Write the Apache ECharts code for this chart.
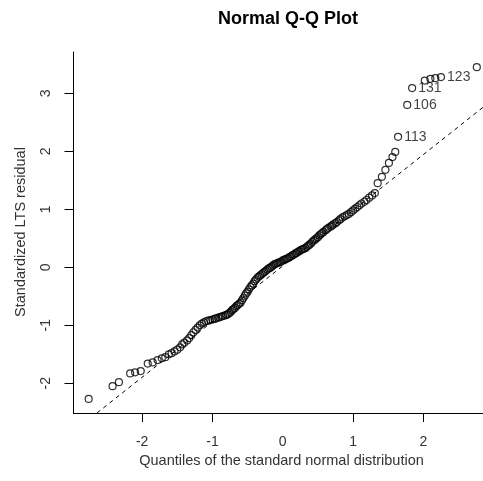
<!DOCTYPE html>
<html>
<head>
<meta charset="utf-8">
<script src="https://cdn.jsdelivr.net/npm/echarts@6/dist/echarts.min.js"></script>
<style>
html,body{margin:0;padding:0;background:#fff;}
#chart{width:483px;height:481px;}
</style>
</head>
<body>
<div id="chart"></div>
<script>
// Theoretical quantiles (x) and sorted standardized LTS residuals (y)
const xq = [
-2.76,-2.42,-2.33,-2.17,-2.10,-2.02,-1.92,-1.85,-1.78,-1.72,
-1.67,-1.62,-1.58,-1.54,-1.50,-1.46,-1.43,-1.40,-1.36,-1.33,
-1.30,-1.27,-1.24,-1.21,-1.18,-1.15,-1.12,-1.09,-1.06,-1.03,
-1.00,-0.97,-0.95,-0.92,-0.90,-0.87,-0.85,-0.82,-0.80,-0.78,
-0.76,-0.74,-0.72,-0.70,-0.68,-0.66,-0.64,-0.62,-0.60,-0.58,
-0.56,-0.54,-0.52,-0.50,-0.48,-0.46,-0.44,-0.42,-0.40,-0.38,
-0.36,-0.34,-0.32,-0.30,-0.28,-0.26,-0.24,-0.22,-0.20,-0.18,
-0.16,-0.14,-0.12,-0.10,-0.08,-0.06,-0.04,-0.02,0.00,0.02,
0.04,0.06,0.08,0.10,0.12,0.14,0.16,0.18,0.20,0.22,
0.24,0.26,0.28,0.30,0.32,0.34,0.36,0.38,0.40,0.42,
0.44,0.46,0.48,0.50,0.52,0.54,0.56,0.58,0.61,0.63,
0.65,0.68,0.70,0.72,0.75,0.77,0.80,0.82,0.85,0.88,
0.91,0.94,0.97,1.00,1.03,1.06,1.09,1.12,1.16,1.19,
1.23,1.27,1.31,1.35,1.41,1.46,1.51,1.56,1.60,1.64,
1.77,1.84,2.02,2.10,2.17,2.25,2.76
];
const yr = [
-2.27,-2.05,-1.98,-1.83,-1.81,-1.79,-1.66,-1.64,-1.60,-1.57,
-1.55,-1.50,-1.48,-1.45,-1.42,-1.38,-1.33,-1.30,-1.26,-1.22,
-1.17,-1.12,-1.08,-1.04,-1.00,-0.97,-0.95,-0.93,-0.92,-0.91,
-0.90,-0.89,-0.88,-0.87,-0.86,-0.85,-0.84,-0.83,-0.82,-0.81,
-0.79,-0.77,-0.74,-0.72,-0.70,-0.67,-0.65,-0.63,-0.61,-0.57,
-0.53,-0.49,-0.45,-0.42,-0.38,-0.34,-0.31,-0.28,-0.24,-0.21,
-0.18,-0.16,-0.14,-0.12,-0.10,-0.08,-0.06,-0.04,-0.02,-0.01,
0.01,0.03,0.05,0.06,0.07,0.08,0.09,0.10,0.12,0.13,
0.14,0.15,0.16,0.18,0.19,0.21,0.22,0.24,0.25,0.27,
0.28,0.30,0.31,0.32,0.33,0.35,0.37,0.39,0.41,0.44,
0.46,0.48,0.50,0.52,0.55,0.57,0.59,0.61,0.64,0.66,
0.68,0.70,0.72,0.74,0.76,0.78,0.81,0.83,0.86,0.88,
0.90,0.92,0.95,0.98,1.01,1.04,1.07,1.10,1.13,1.16,
1.20,1.24,1.28,1.45,1.56,1.68,1.80,1.90,1.99,2.25,
2.80,3.09,3.22,3.25,3.26,3.28,3.45
];
// Identified observations
const labelIdx = [139, 140, 141, 145, 146];
const labelTxt = ['113', '106', '131', '123', '57'];
// Reference (qq) line end points
const refLine = [[-2.64, -2.51], [2.85, 2.76]];
// Tick values
const xTicks = [-2, -1, 0, 1, 2];
const xTickMarks = [-2, -1, 1, 2];
const yTicks = [-2, -1, 0, 1, 2, 3];

const FONT = '"Liberation Sans", Arial, Helvetica, sans-serif';

const pts = xq.map((x, i) => {
  const k = labelIdx.indexOf(i);
  const d = { value: [x, yr[i]] };
  if (k >= 0) {
    d.label = { show: true, formatter: labelTxt[k] };
  }
  return d;
});

const chart = echarts.init(document.getElementById('chart'), null, { renderer: 'canvas' });
chart.setOption({
  animation: false,
  backgroundColor: '#fff',
  title: {
    text: 'Normal Q-Q Plot',
    left: 283,
    top: 5,
    textAlign: 'center',
    textStyle: { fontFamily: FONT, fontSize: 18, fontWeight: 'bold', color: '#000' }
  },
  grid: { left: 73.5, top: 52, right: 0, bottom: 68, containLabel: false, outerBoundsMode: 'none' },
  xAxis: {
    type: 'value', min: -2.976, max: 2.848,
    axisLine: { show: true, onZero: false, lineStyle: { color: '#000', width: 1 } },
    axisTick: { show: true, length: 9, customValues: xTickMarks, lineStyle: { color: '#000', width: 1 } },
    axisLabel: { customValues: xTicks, margin: 22, fontSize: 14, color: '#333', fontFamily: FONT },
    splitLine: { show: false }
  },
  yAxis: {
    type: 'value', min: -2.512, max: 3.712,
    axisLine: { show: true, onZero: false, lineStyle: { color: '#000', width: 1 } },
    axisTick: { show: true, length: 9, customValues: yTicks, lineStyle: { color: '#000', width: 1 } },
    axisLabel: { customValues: yTicks, rotate: 90, margin: 20, fontSize: 14, color: '#333', fontFamily: FONT },
    splitLine: { show: false }
  },
  graphic: [
    { type: 'text', x: 281.5, y: 461, silent: true,
      style: { text: 'Quantiles of the standard normal distribution', fontSize: 14.5, fontFamily: FONT,
               fill: '#333', align: 'center', verticalAlign: 'middle', textAlign: 'center', textVerticalAlign: 'middle' } },
    { type: 'text', x: 21, y: 232, rotation: Math.PI / 2, silent: true,
      style: { text: 'Standardized LTS residual', fontSize: 14.5, fontFamily: FONT,
               fill: '#333', align: 'center', verticalAlign: 'middle', textAlign: 'center', textVerticalAlign: 'middle' } }
  ],
  series: [
    {
      type: 'line',
      data: refLine,
      symbol: 'none',
      clip: true,
      silent: true,
      lineStyle: { color: '#000', width: 1, type: [4, 4] },
      z: 1
    },
    {
      type: 'scatter',
      data: pts,
      symbol: 'circle',
      symbolSize: 7,
      silent: true,
      clip: false,
      itemStyle: { color: 'rgba(255,255,255,0)', borderColor: '#000', borderWidth: 1.2 },
      label: { show: false, position: 'right', distance: 2, fontSize: 14, fontFamily: FONT, color: '#111' },
      emphasis: { disabled: true },
      z: 2
    }
  ]
});
</script>
</body>
</html>
